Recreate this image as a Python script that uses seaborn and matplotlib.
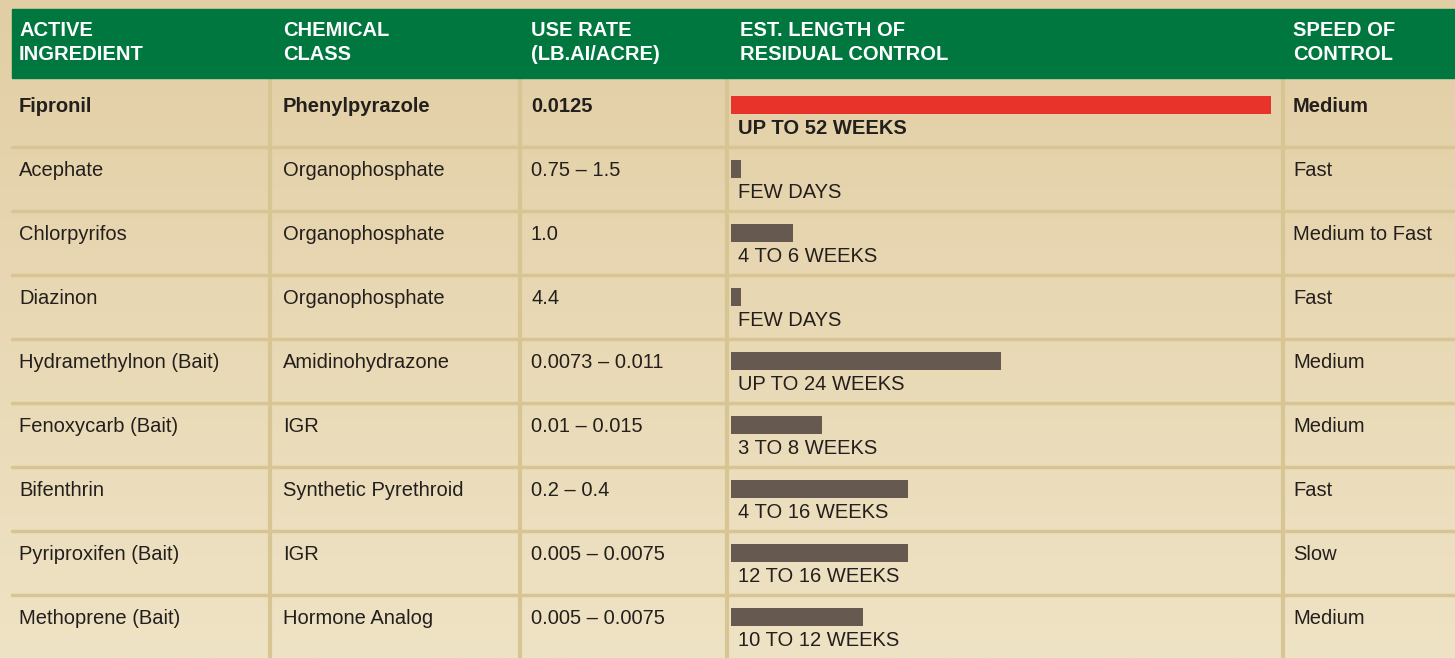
import numpy as np
import pandas as pd
import seaborn as sns
import matplotlib.pyplot as plt
from matplotlib.colors import LinearSegmentedColormap

ingredients = ["Fipronil", "Acephate", "Chlorpyrifos", "Diazinon", "Hydramethylnon (Bait)",
               "Fenoxycarb (Bait)", "Bifenthrin", "Pyriproxifen (Bait)", "Methoprene (Bait)"]
classes = ["Phenylpyrazole", "Organophosphate", "Organophosphate", "Organophosphate",
           "Amidinohydrazone", "IGR", "Synthetic Pyrethroid", "IGR", "Hormone Analog"]
use_rates = ["0.0125", "0.75 \u2013 1.5", "1.0", "4.4", "0.0073 \u2013 0.011", "0.01 \u2013 0.015",
             "0.2 \u2013 0.4", "0.005 \u2013 0.0075", "0.005 \u2013 0.0075"]
residual_weeks = [52, 1, 6, 1, 26, 8.8, 17, 17, 12.7]
residual_labels = ["UP TO 52 WEEKS", "FEW DAYS", "4 TO 6 WEEKS", "FEW DAYS", "UP TO 24 WEEKS",
                   "3 TO 8 WEEKS", "4 TO 16 WEEKS", "12 TO 16 WEEKS", "10 TO 12 WEEKS"]
speeds = ["Medium", "Fast", "Medium to Fast", "Fast", "Medium", "Medium", "Fast", "Slow", "Medium"]
headers = [("ACTIVE", "INGREDIENT"), ("CHEMICAL", "CLASS"), ("USE RATE", "(LB.AI/ACRE)"),
           ("EST. LENGTH OF", "RESIDUAL CONTROL"), ("SPEED OF", "CONTROL")]

sns.set_style("white")
plt.rcParams['font.family'] = ['Liberation Sans', 'DejaVu Sans']

W, H = 1455, 658
fig = plt.figure(figsize=(W / 100, H / 100), dpi=100)

# table frame in pixel coordinates
ax = fig.add_axes([0, 0, 1, 1])
ax.set_xlim(0, W)
ax.set_ylim(H, 0)
ax.axis("off")

grad = np.linspace(0, 1, 256).reshape(-1, 1)
bg = LinearSegmentedColormap.from_list("bg", ["#e2cea4", "#efe3c5"])
ax.imshow(grad, cmap=bg, extent=[0, W, H, 0], aspect="auto", zorder=0)

ax.add_patch(plt.Rectangle((12, 9), W - 12, 69, color="#00773f", zorder=2))

col_x = [19, 283, 531, 740, 1293]
line_x = [270, 520, 727, 1283]
for i, (l1, l2) in enumerate(headers):
    ax.text(col_x[i], 31, l1, color="white", fontsize=14.5, fontweight="bold",
            va="center", ha="left", zorder=3)
    ax.text(col_x[i], 54, l2, color="white", fontsize=14.5, fontweight="bold",
            va="center", ha="left", zorder=3)

row_sep = [147 + 64 * i for i in range(8)]
for y in row_sep:
    ax.plot([12, W], [y, y], color="#d8c594", lw=2.5, zorder=1)
for x in line_x:
    ax.plot([x, x], [78, H], color="#d8c594", lw=3, zorder=1)

row_y = [107 + 64 * i for i in range(9)]
txt = dict(fontsize=14.5, va="center", color="#231f1c")
for i in range(9):
    wt = "bold" if i == 0 else "normal"
    ax.text(col_x[0], row_y[i], ingredients[i], fontweight=wt, **txt)
    ax.text(col_x[1], row_y[i], classes[i], fontweight=wt, **txt)
    ax.text(col_x[2], row_y[i], use_rates[i], fontweight=wt, **txt)
    ax.text(col_x[4], row_y[i], speeds[i], fontweight=wt, **txt)

# bar column
x0, x1 = 731, 1271
top, bottom = 105 - 32, 105 + 64 * 8 + 32
bax = fig.add_axes([x0 / W, 1 - bottom / H, (x1 - x0) / W, (bottom - top) / H])
df = pd.DataFrame({"ingredient": ingredients, "weeks": residual_weeks})
colors = ["#e8332a"] + ["#665a50"] * 8
sns.barplot(data=df, x="weeks", y="ingredient", hue="ingredient", palette=colors,
            width=0.27, legend=False, ax=bax, saturation=1, linewidth=0)
bax.set_xlim(0, 52)
bax.set_ylim(8.5, -0.5)
bax.patch.set_alpha(0)
bax.axis("off")
for i in range(9):
    wt = "bold" if i == 0 else "normal"
    bax.text(0.65, i + 0.36, residual_labels[i], fontweight=wt, ha="left", **txt)

fig.savefig("out.png", dpi=100)
